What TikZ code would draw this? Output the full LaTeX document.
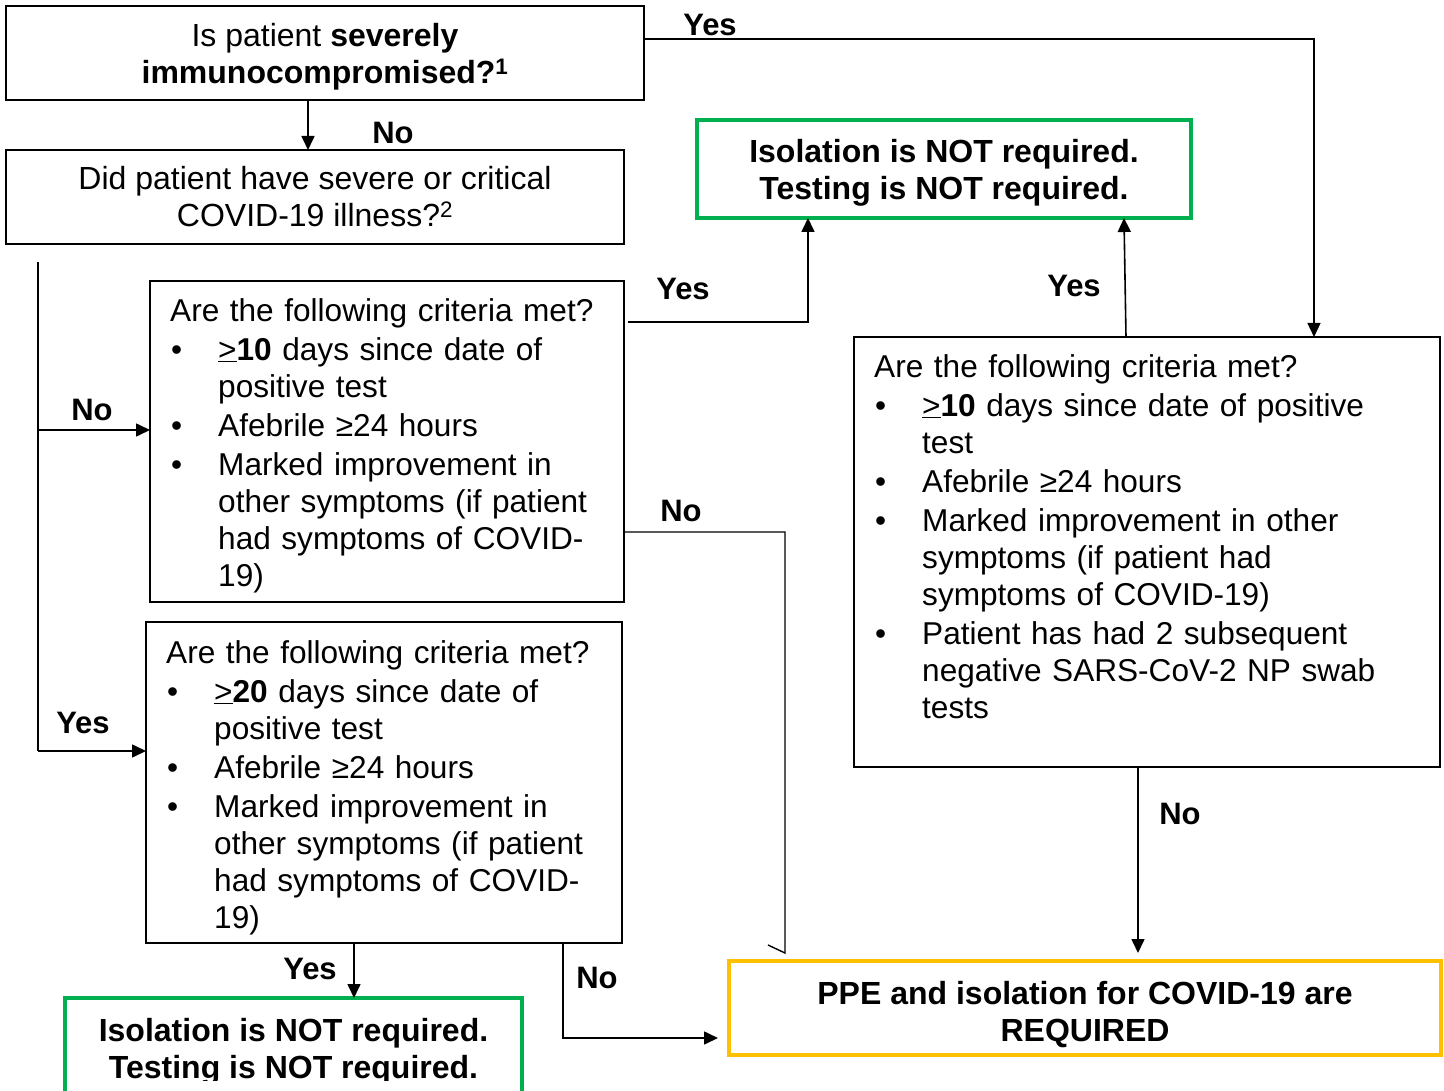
\documentclass[tikz,border=0pt]{standalone}
\usepackage{fontspec}
\setmainfont{Liberation Sans}
\usetikzlibrary{arrows.meta}
\definecolor{grn}{HTML}{00B050}
\definecolor{ylw}{HTML}{FFC000}
\newcommand\bul[1]{\par\noindent\hangindent=48pt\hangafter=1\makebox[48pt][l]{\hspace{1pt}\textbullet}#1}
\newcommand\bigfont{\fontsize{32pt}{37pt}\selectfont}
\newcommand\bodyfont{\fontsize{31.6pt}{37pt}\selectfont}
\newcommand\lift[1]{\rule{0pt}{#1}}
\begin{document}
\begin{tikzpicture}[x=1pt,y=-1pt,
  box/.style={draw, line width=1.8pt, inner sep=0pt, outer sep=0pt, anchor=north west, align=center, font=\bigfont},
  gbox/.style={box, draw=grn, line width=4.5pt, font=\bigfont\bfseries},
  ybox/.style={box, draw=ylw, line width=4.5pt, font=\bigfont\bfseries},
  crit/.style={anchor=north west, inner sep=0pt, text width=#1, font=\bodyfont},
  lbl/.style={font=\fontsize{31pt}{37pt}\selectfont\bfseries, inner sep=0pt},
  wire/.style={line width=1.6pt},
  conn/.style={line width=1.6pt, -{Triangle[length=14pt,width=13pt]}}]
\fill[white] (0,0) rectangle (1444,1091);
\useasboundingbox (0,0) rectangle (1444,1091);

% boxes
\node[box, minimum width=638pt, minimum height=94pt] (q1) at (6,6) {\lift{31pt}Is patient \textbf{severely}\\\textbf{immunocompromised?\textsuperscript{1}}};
\node[box, minimum width=618pt, minimum height=94pt] (q2) at (6,150) {Did patient have severe or critical\\COVID-19 illness?\textsuperscript{2}};
\node[gbox, minimum width=494pt, minimum height=98pt] (g1) at (697,120) {\lift{31.3pt}Isolation is NOT required.\\Testing is NOT required.};
\node[box, minimum width=474pt, minimum height=321pt] (q3) at (150,281) {};
\node[box, minimum width=476pt, minimum height=321pt] (q4) at (146,622) {};
\node[box, minimum width=586pt, minimum height=430pt] (q5) at (854,337) {};
\node[ybox, minimum width=712pt, minimum height=94pt] (ppe) at (729,961) {\lift{35.4pt}PPE and isolation for COVID-19 are\\REQUIRED};
\node[gbox, minimum width=457pt, minimum height=110pt] (g2) at (65,998) {};
\begin{scope}
\clip (0,0) rectangle (1444,1080);
\node[font=\bigfont\bfseries, align=center, inner sep=0pt] (g2t) at (293.5,1052) {Isolation is NOT required.\\Testing is NOT required.};
\end{scope}

% criteria texts
\node[crit=440pt] (q3t) at (170,298) {\setlength{\parskip}{2pt}\noindent Are the following criteria met?
\bul{\underline{>}\textbf{10} days since date of\newline positive test}
\bul{Afebrile ≥24 hours}
\bul{Marked improvement in\newline other symptoms (if patient\newline had symptoms of COVID-\newline 19)}\par};
\node[crit=440pt] (q4t) at (166,640) {\setlength{\parskip}{2pt}\noindent Are the following criteria met?
\bul{\underline{>}\textbf{20} days since date of\newline positive test}
\bul{Afebrile ≥24 hours}
\bul{Marked improvement in\newline other symptoms (if patient\newline had symptoms of COVID-\newline 19)}\par};
\node[crit=550pt] (q5t) at (874,354) {\setlength{\parskip}{2pt}\noindent Are the following criteria met?
\bul{\underline{>}\textbf{10} days since date of positive\newline test}
\bul{Afebrile ≥24 hours}
\bul{Marked improvement in other\newline symptoms (if patient had\newline symptoms of COVID-19)}
\bul{Patient has had 2 subsequent\newline negative SARS-CoV-2 NP swab\newline tests}\par};

% labels
\node[lbl] (l1) at (710,25) {Yes};
\node[lbl] (l2) at (393,133) {No};
\node[lbl] (l3) at (683,289) {Yes};
\node[lbl] (l4) at (1074,286) {Yes};
\node[lbl] (l5) at (92,410) {No};
\node[lbl] (l6) at (681,511) {No};
\node[lbl] (l7) at (83,723) {Yes};
\node[lbl] (l8) at (1180,814) {No};
\node[lbl] (l9) at (310,969) {Yes};
\node[lbl] (l10) at (597,978) {No};

% connectors
\draw[conn] ([xshift=-17pt]q1.south) -- ([xshift=-7pt]q2.north);
\draw[conn, line width=1.2pt] ([yshift=14pt]q1.east) -| ([xshift=167pt]q5.north);
\coordinate (t0) at (38,262);
\coordinate (t1) at (38,430);
\coordinate (t2) at (38,751);
\draw[wire] (t0) -- (t2);
\draw[conn] (t1) -- (t1 -| q3.west);
\draw[conn] (t2) -- (t2 -| q4.west);
\coordinate (a3) at (628,322);
\draw[conn] (a3) -| ([xshift=-136pt]g1.south);
\coordinate (n3) at (785,953);
\draw[wire, line width=1.4pt] ([yshift=-90.5pt]q3.east) -| (n3) -- ++(-17,-8);
\draw[conn] ([xshift=-30pt]q4.south) -- ([xshift=60.5pt]g2.north);
\draw[conn] ([xshift=179pt]q4.south) |- ([xshift=-11pt,yshift=-30pt]ppe.west);
\draw[conn] ([xshift=-21pt]q5.north) -- ([xshift=180pt]g1.south);
\draw[conn] ([xshift=-9pt]q5.south) -- ([xshift=53pt,yshift=8pt]ppe.north);
\end{tikzpicture}
\end{document}
